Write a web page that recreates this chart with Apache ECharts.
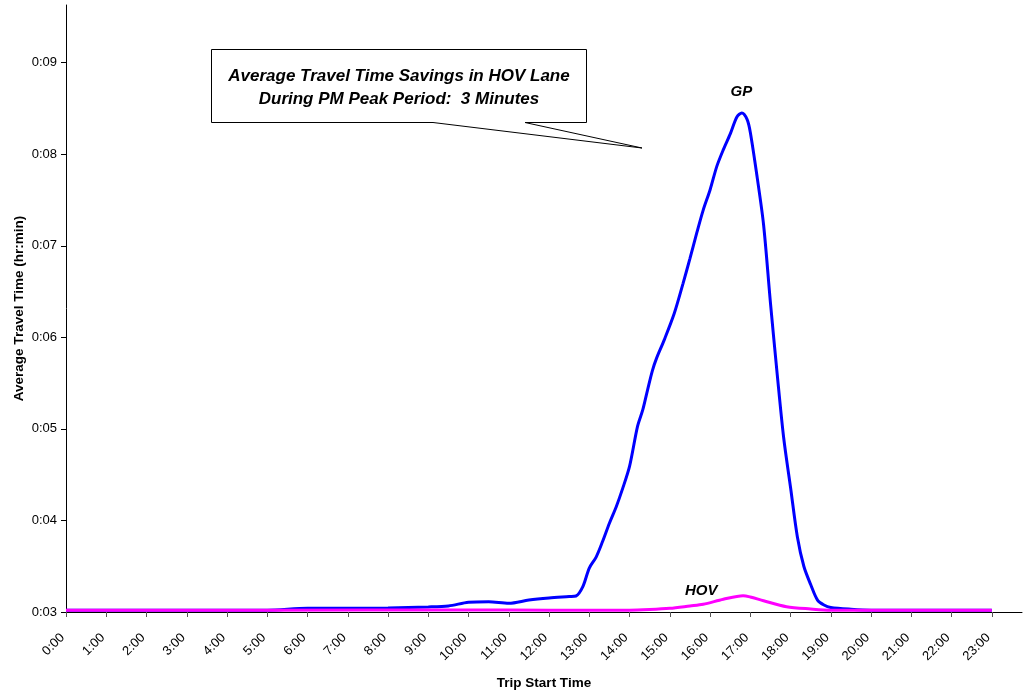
<!DOCTYPE html>
<html>
<head>
<meta charset="utf-8">
<script src="https://cdn.jsdelivr.net/npm/echarts@6/dist/echarts.min.js"></script>
<style>
html,body{margin:0;padding:0;background:#fff;}
#chart{width:1024px;height:693px;}
</style>
</head>
<body>
<div id="chart"></div>
<script>
// Trip start time (hours) and average travel time (minutes)
const gpTimes = [0, 5, 6, 7, 8, 9, 9.5, 10, 10.5, 11, 11.5, 12, 12.5, 12.67, 12.84, 13, 13.17, 13.33, 13.5, 13.67, 13.83, 14, 14.2, 14.33, 14.45, 14.57, 14.67, 14.86, 15.11, 15.33, 15.5, 15.67, 15.83, 16, 16.17, 16.33, 16.5, 16.67, 16.79, 16.92, 17, 17.17, 17.33, 17.5, 17.67, 17.83, 18, 18.17, 18.33, 18.5, 18.67, 18.83, 19, 19.5, 20, 21, 22, 23];
const gpValues = [3.02, 3.02, 3.04, 3.04, 3.045, 3.055, 3.066, 3.106, 3.113, 3.095, 3.13, 3.153, 3.169, 3.175, 3.277, 3.48, 3.60, 3.77, 3.97, 4.15, 4.35, 4.59, 5.03, 5.21, 5.43, 5.64, 5.77, 5.97, 6.26, 6.59, 6.86, 7.14, 7.39, 7.61, 7.87, 8.05, 8.22, 8.41, 8.45, 8.38, 8.24, 7.75, 7.23, 6.38, 5.59, 4.90, 4.36, 3.82, 3.50, 3.30, 3.13, 3.077, 3.05, 3.03, 3.02, 3.02, 3.02, 3.02];
const hovTimes = [0, 5, 10, 12, 14, 14.5, 15, 15.5, 15.83, 16.33, 16.82, 17, 17.33, 17.9, 18.5, 19, 20, 21, 22, 23];
const hovValues = [3.02, 3.02, 3.022, 3.02, 3.02, 3.027, 3.04, 3.066, 3.084, 3.139, 3.178, 3.164, 3.123, 3.058, 3.033, 3.02, 3.02, 3.02, 3.02, 3.02];
const yTickValues = [3, 4, 5, 6, 7, 8, 9];
const xTickValues = [0,1,2,3,4,5,6,7,8,9,10,11,12,13,14,15,16,17,18,19,20,21,22,23];
const calloutLines = ['Average Travel Time Savings in HOV Lane', 'During PM Peak Period:  3 Minutes'];
const seriesNames = ['GP', 'HOV'];

const FONT = '"Liberation Sans", Arial, sans-serif';
const chart = echarts.init(document.getElementById('chart'), null, {renderer: 'canvas'});

function zip(a, b) { return a.map((t, i) => [t, b[i]]); }

chart.setOption({
  animation: false,
  backgroundColor: '#ffffff',
  grid: {left: 66, right: 2, top: 5, bottom: 81, containLabel: false, outerBoundsMode: 'none'},
  xAxis: {
    type: 'value', min: 0, max: 23.75, interval: 1,
    name: 'Trip Start Time', nameLocation: 'middle', nameGap: 64, nameMoveOverlap: false,
    nameTextStyle: {fontFamily: FONT, fontSize: 13.5, fontWeight: 'bold', color: '#000'},
    axisLine: {lineStyle: {color: '#000', width: 1}},
    axisTick: {show: true, length: 5, lineStyle: {color: '#555'}, customValues: xTickValues},
    axisLabel: {rotate: 45, fontFamily: FONT, fontSize: 13, color: '#000', margin: 20, padding: [0, 5, 0, 0],
      customValues: xTickValues, formatter: v => Math.round(v) + ':00'},
    splitLine: {show: false}
  },
  yAxis: {
    type: 'value', min: 3, max: 9.63, interval: 1,
    name: 'Average Travel Time (hr:min)', nameLocation: 'middle', nameGap: 40, nameMoveOverlap: false,
    nameTextStyle: {fontFamily: FONT, fontSize: 13.5, fontWeight: 'bold', color: '#000'},
    axisLine: {show: true, lineStyle: {color: '#000', width: 1}},
    axisTick: {show: true, length: 5, lineStyle: {color: '#000'}, customValues: yTickValues},
    axisLabel: {fontFamily: FONT, fontSize: 13, color: '#000', margin: 9,
      customValues: yTickValues, formatter: v => '0:' + String(Math.round(v)).padStart(2, '0')},
    splitLine: {show: false}
  },
  series: [
    {name: seriesNames[0], type: 'line', data: zip(gpTimes, gpValues), smooth: 0.3,
      showSymbol: false, lineStyle: {color: '#0000ff', width: 3}, itemStyle: {color: '#0000ff'}, z: 2},
    {name: seriesNames[1], type: 'line', data: zip(hovTimes, hovValues), smooth: 0.3,
      showSymbol: false, lineStyle: {color: '#ff00ff', width: 3}, itemStyle: {color: '#ff00ff'}, z: 3}
  ]
});

const gpPos = chart.convertToPixel('grid', [16.78, 8.68]);
const hovPos = chart.convertToPixel('grid', [15.78, 3.23]);

chart.setOption({
  graphic: [
    {type: 'polygon', z: 10,
      shape: {points: [[211.5, 49.5], [586.5, 49.5], [586.5, 122.5], [525, 122.5], [642, 148], [433, 122.5], [211.5, 122.5]]},
      style: {fill: '#fff', stroke: '#000', lineWidth: 1}},
    {type: 'text', z: 11, x: 399, y: 76,
      style: {text: calloutLines[0], fill: '#000', font: 'italic bold 17px ' + FONT, textAlign: 'center', textVerticalAlign: 'middle'}},
    {type: 'text', z: 11, x: 399, y: 99,
      style: {text: calloutLines[1], fill: '#000', font: 'italic bold 17px ' + FONT, textAlign: 'center', textVerticalAlign: 'middle'}},
    {type: 'text', z: 11, x: gpPos[0], y: gpPos[1],
      style: {text: seriesNames[0], fill: '#000', font: 'italic bold 15px ' + FONT, textAlign: 'center', textVerticalAlign: 'middle'}},
    {type: 'text', z: 11, x: hovPos[0], y: hovPos[1],
      style: {text: seriesNames[1], fill: '#000', font: 'italic bold 15px ' + FONT, textAlign: 'center', textVerticalAlign: 'middle'}}
  ]
});
</script>
</body>
</html>
